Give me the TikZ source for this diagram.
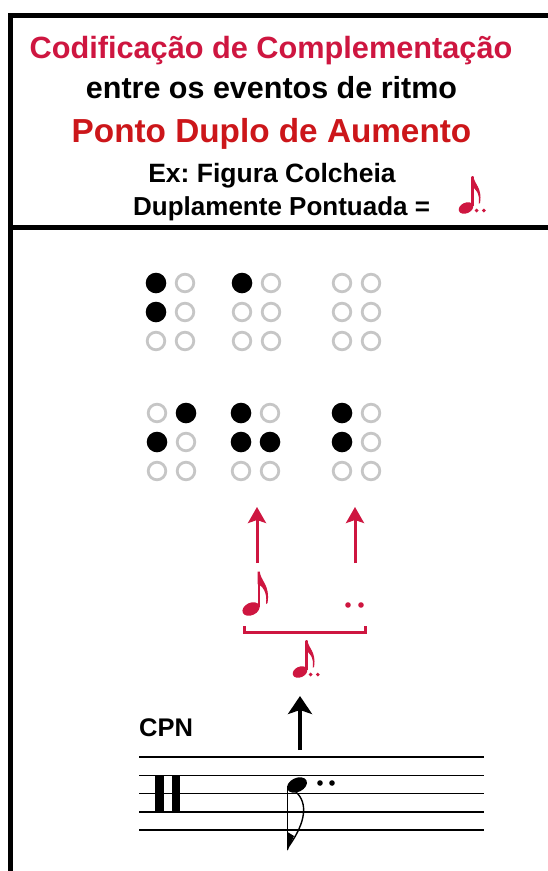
\documentclass[tikz,border=0pt]{standalone}
\usepackage{fontspec}
\setmainfont{Liberation Sans}
\usetikzlibrary{arrows.meta}
\definecolor{crim}{RGB}{206,22,64}
\definecolor{pred}{RGB}{204,22,26}
\definecolor{hollow}{RGB}{198,198,198}
\frenchspacing
\tikzset{
  frameline/.style={line width=5pt, line cap=rect},
  hdr/.style={font=\fontsize{#1}{#1}\selectfont\bfseries, anchor=base, inner sep=0pt},
  fdot/.style={fill=black},
  edot/.style={draw=hollow, line width=2.8pt},
  redarrow/.style={crim, line width=3pt, -{Stealth[length=16pt, width=18pt, inset=3pt]}},
  blackarrow/.style={black, line width=4.5pt, -{Stealth[length=18pt, width=24pt, inset=4pt]}},
  staffline/.style={line width=1.6pt},
  pics/brl/.style n args={6}{code={
    \foreach \d/\px/\py in {#1/0/0,#2/0/1,#3/0/2,#4/1/0,#5/1/1,#6/1/2}{
      \ifnum\d=1
        \fill[black] (\px*29,\py*29) circle (10.3pt);
      \else
        \draw[edot] (\px*29,\py*29) circle (8.8pt);
      \fi
    }
  }},
  pics/eighth/.style={code={
    \fill[rotate=25] (0,0) ellipse [x radius=9pt, y radius=6.2pt];
    \draw[line width=2.2pt] (7.6,-2) -- (7.6,-37);
    \fill (6.5,-37.5) -- (8.7,-37.5) .. controls (9.5,-28) and (19.5,-24) .. (16.5,-6) -- (15,-5)
      .. controls (16.5,-17) and (11.5,-23) .. (6.5,-25) -- cycle;
  }},
  pics/ddots/.style={code={
    \fill (12.5,3) circle (2.3pt);
    \fill (21,3) circle (2.3pt);
  }}
}
\begin{document}
\begin{tikzpicture}[x=1pt, y=-1pt]
\useasboundingbox (0,0) rectangle (547,871);
\fill[white] (0,0) rectangle (547,871);
% frame
\draw[frameline] (10.5,871) -- (10.5,15.5) -- (549,15.5);
\draw[frameline] (10.5,227) -- (549,227);
% header
\node[hdr=30.7, text=crim] (t1) at (271,58) {Codificação de Complementação};
\node[hdr=30.5] (t2) at (271.5,98) {entre os eventos de ritmo};
\node[hdr=33.3, text=pred] (t3) at (271.5,142) {Ponto Duplo de Aumento};
\node[hdr=26.5] (t4) at (272,182) {Ex: Figura Colcheia};
\node[hdr=26, anchor=base west] (t5) at (133,215) {Duplamente Pontuada =};
\pic[crim, scale=0.85] (hnote) at (466,208) {eighth};
\pic[crim, scale=0.85] at (466,208) {ddots};
% braille
\pic at (156,283) {brl={1}{1}{0}{0}{0}{0}};
\pic at (242,283) {brl={1}{0}{0}{0}{0}{0}};
\pic at (342,283) {brl={0}{0}{0}{0}{0}{0}};
\pic at (157,413) {brl={0}{1}{0}{1}{0}{0}};
\pic at (241,413) {brl={1}{1}{0}{0}{1}{0}};
\pic at (342,413) {brl={1}{1}{0}{0}{0}{0}};
% red arrows
\coordinate (a1s) at (257,563);
\coordinate (a1e) at (257,507);
\coordinate (a2s) at (355,563);
\coordinate (a2e) at (355,507);
\draw[redarrow] (a1s) -- (a1e);
\draw[redarrow] (a2s) -- (a2e);
% notes
\pic[crim] at (251,609) {eighth};
\fill[crim] (348,605) circle (2.8pt) (361,605) circle (2.8pt);
% bracket
\coordinate (bl) at (244,626);
\coordinate (br) at (365,626);
\draw[crim, line width=3pt] (bl) -- ++(0,6) -| (br);
\pic[crim, scale=0.85] at (300,672) {eighth};
\pic[crim, scale=0.85] at (300,672) {ddots};
% black arrow
\coordinate (bs) at (300,750);
\coordinate (be) at (300,696);
\draw[blackarrow] (bs) -- (be);
% CPN
\node[hdr=25.5, anchor=base west] (cpn) at (139,736) {CPN};
% staff
\foreach \yy in {757,775.3,793.6,811.9,830.2}
  \draw[staffline] (139,\yy) -- (484,\yy);
\fill (155,775.3) rectangle (163.5,811.9);
\fill (171.5,775.3) rectangle (180,811.9);
% staff note
\fill[rotate around={25:(297,785)}] (297,785) ellipse [x radius=10.5pt, y radius=7pt];
\draw[line width=1.5pt] (287.5,787) -- (287.5,850);
\draw[line width=1.4pt] (296,792) .. controls (308,803) and (306,822) .. (289,846);
\fill (287.5,851) -- (287.5,832) -- (294,836) -- cycle;
\fill (320,783) circle (2.8pt) (332,783) circle (2.8pt);
\end{tikzpicture}
\end{document}
